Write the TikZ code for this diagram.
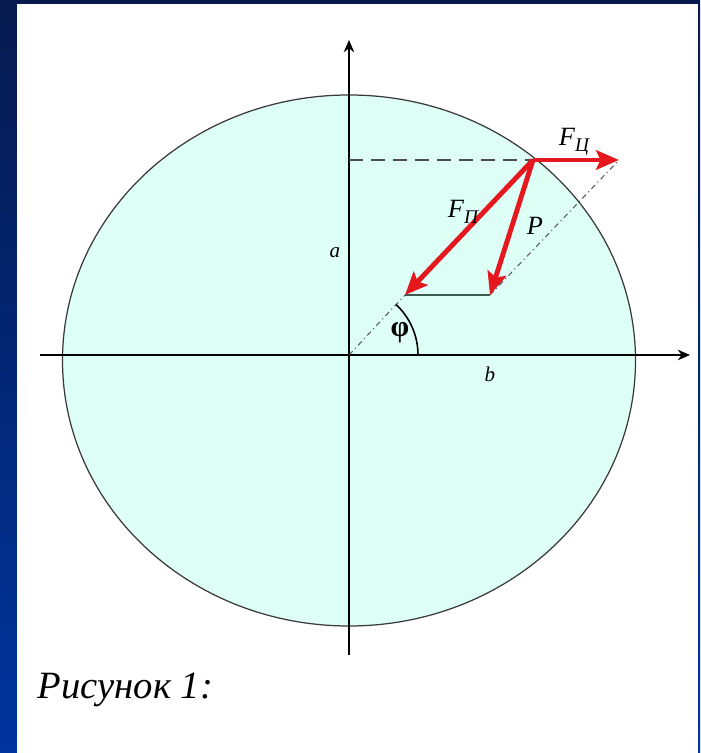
\documentclass[tikz,border=0pt]{standalone}
\usepackage{fontspec}
\setmainfont{Liberation Serif}
\usepackage{tikz}
\usetikzlibrary{arrows.meta}
\definecolor{navytop}{RGB}{6,26,78}
\definecolor{navybot}{RGB}{0,52,158}
\definecolor{ovalfill}{RGB}{222,255,246}
\definecolor{forcered}{RGB}{228,24,30}
\definecolor{edgegreen}{RGB}{60,92,82}
\newcommand{\Fsub}[1]{\textit{F}\raisebox{-0.45ex}{\fontsize{11}{12}\selectfont\itshape #1}}

\begin{document}
\begin{tikzpicture}[x=0.02cm, y=0.02cm, line width=0.6pt,
  axis/.style={draw=black, line width=0.8pt, -{Stealth[length=7pt,width=6pt]}},
  force/.style={draw=forcered, line width=2.8pt, -{Stealth[length=13pt,width=11pt,inset=2.5pt]}},
  guide/.style={draw=gray!70!black, line width=0.6pt, dash dot},
  lbl/.style={inner sep=1pt, font=\fontsize{15}{17}\selectfont}]
% frame
\useasboundingbox (0,0) rectangle (700,753);
\shade[top color=navytop, bottom color=navybot] (0,0) rectangle (700,753);
\fill[white] (17,0) rectangle (698,749);
% points
\coordinate (C) at (349,392.5);
\coordinate (O) at (349,398);
\coordinate (xl) at (40,398);
\coordinate (xr) at (690,398);
\coordinate (yb) at (349,98);
\coordinate (yt) at (349,713);
\coordinate (ya) at (349,593);
\coordinate (M) at (533,593);
\coordinate (Fc) at (619,593);
\coordinate (Fp) at (405,458);
\coordinate (Pt) at (490,458);
\coordinate (A) at (418,398);
% ellipse and axes
\draw[fill=ovalfill, draw=gray!45!black, line width=0.7pt] (C) ellipse [x radius=286.5, y radius=265.5];
\draw[axis] (xl) -- (xr);
\draw[axis] (yb) -- (yt);
\draw[draw=gray!60!black, line width=0.6pt, dash pattern=on 8pt off 4.5pt] (ya) -- (M);
% construction lines
\draw[guide] (O) -- (Fp);
\draw[guide] (Pt) -- (Fc);
\draw[draw=black, line width=0.9pt] (A) arc[start angle=0, end angle=47, radius=1.38cm];
\draw[draw=edgegreen, line width=1.3pt] (Fp) -- (Pt);
% forces
\draw[force] (M) -- (Fc);
\draw[force] (M) -- (Fp);
\draw[force] (M) -- (Pt);
% labels
\node[lbl] (lFc) at (574,611) {\Fsub{Ц}};
\node[lbl] (lFp) at (463,541) {\Fsub{П}};
\node[lbl] (lP) at (535,527) {\textit{P}};
\node[lbl, font=\fontsize{12}{14}\selectfont\itshape] (la) at (335,500) {a};
\node[lbl, font=\fontsize{12}{14}\selectfont\itshape] (lb) at (490,379) {b};
\node[lbl, font=\fontsize{17}{19}\selectfont\bfseries] (lphi) at (400,420) {φ};
\node[anchor=west, inner sep=0pt, font=\fontsize{22}{26}\selectfont\itshape] (cap) at (37,63) {Рисунок 1:};
\end{tikzpicture}
\end{document}
